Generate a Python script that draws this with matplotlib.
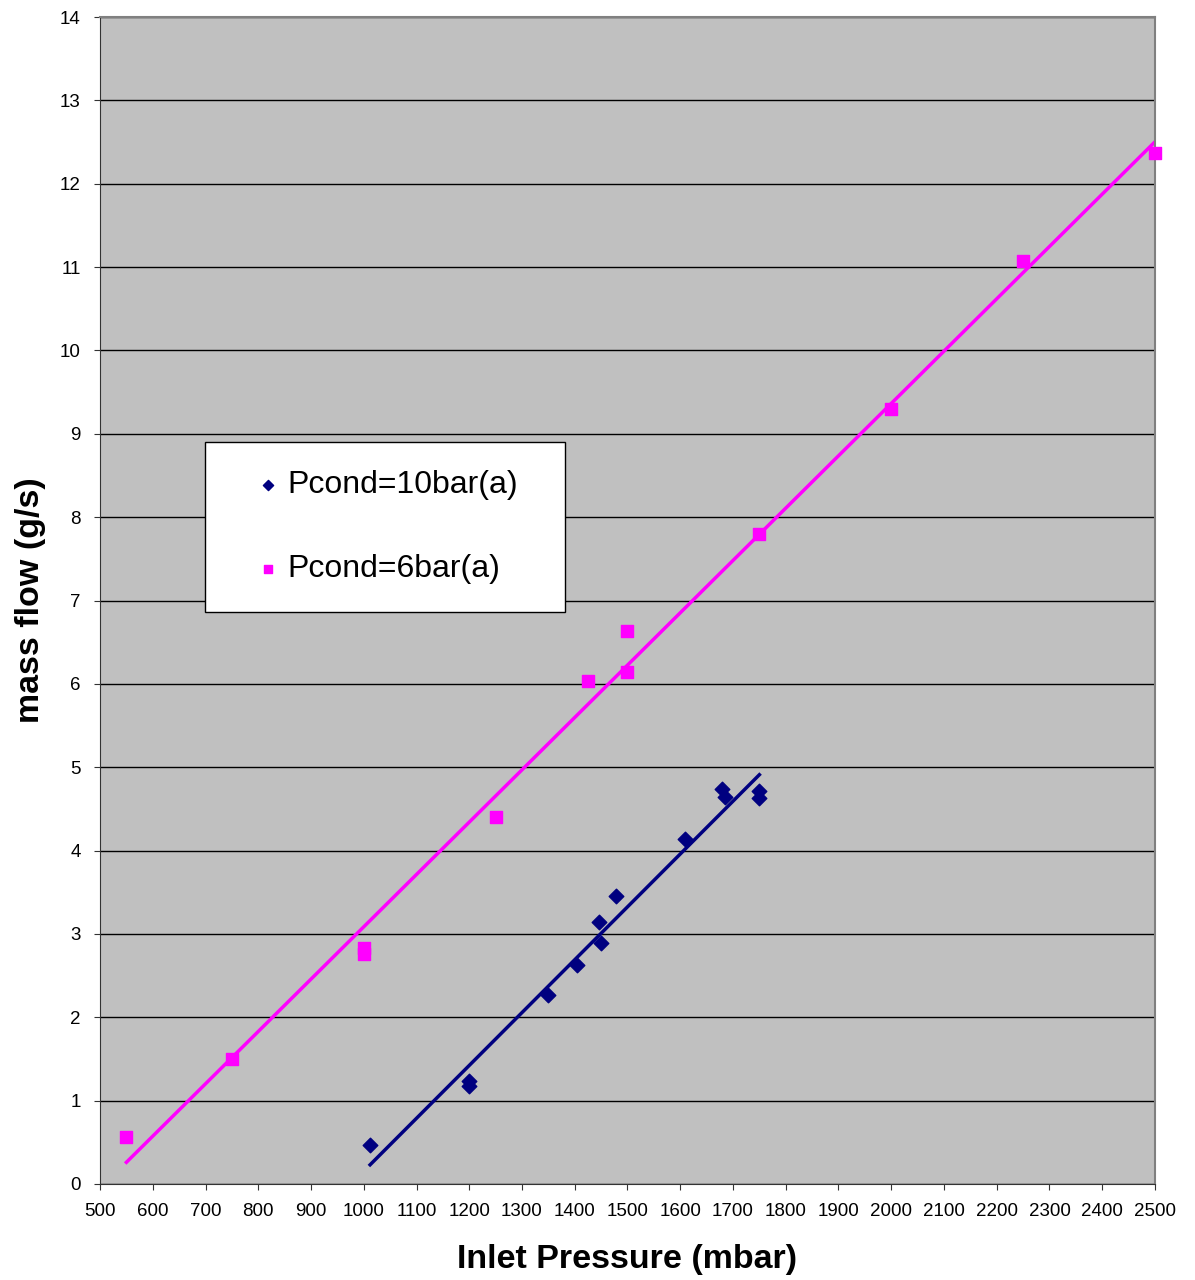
import numpy as np
import matplotlib.pyplot as plt

plt.rcParams['font.family'] = ['Liberation Sans', 'DejaVu Sans']

# Pcond = 10 bar(a)
p10_x = [1012, 1200, 1200, 1349, 1404, 1446, 1450, 1478, 1609, 1679, 1685, 1749, 1750]
p10_y = [0.47, 1.23, 1.18, 2.27, 2.63, 3.14, 2.89, 3.45, 4.14, 4.74, 4.64, 4.71, 4.63]

# Pcond = 6 bar(a)
p6_x = [550, 750, 1000, 1000, 1250, 1425, 1500, 1500, 1750, 2000, 2250, 2500]
p6_y = [0.56, 1.50, 2.83, 2.76, 4.40, 6.03, 6.64, 6.14, 7.80, 9.30, 11.07, 12.37]

navy = '#000080'
pink = '#FF00FF'

fig = plt.figure(figsize=(11.95, 12.8), dpi=100)
ax = fig.add_axes([0.0837, 0.075, 0.8828, 0.9117])
ax.set_facecolor('#C0C0C0')

ax.scatter(p10_x, p10_y, marker='D', s=55, color=navy, zorder=3, label='Pcond=10bar(a)')
ax.scatter(p6_x, p6_y, marker='s', s=85, color=pink, zorder=3, label='Pcond=6bar(a)', clip_on=False)

# linear trendlines
for xs, ys, c in [(p10_x, p10_y, navy), (p6_x, p6_y, pink)]:
    k, b = np.polyfit(xs, ys, 1)
    xx = np.array([min(xs), max(xs)])
    ax.plot(xx, k * xx + b, color=c, lw=2.5, zorder=2)

ax.set_xlim(500, 2500)
ax.set_ylim(0, 14)
ax.set_xticks(range(500, 2501, 100))
ax.set_yticks(range(0, 15))
ax.yaxis.grid(True, color='black', lw=1)
ax.set_axisbelow(True)
ax.tick_params(labelsize=13.5, direction='out', length=4, pad=10, color='#333333')

for s in ['top', 'right']:
    ax.spines[s].set_color('#808080')
    ax.spines[s].set_linewidth(1.5)
for s in ['left', 'bottom']:
    ax.spines[s].set_color('#333333')

ax.set_xlabel('Inlet Pressure (mbar)', fontsize=24.5, fontweight='bold', labelpad=17)
ax.set_ylabel('mass flow (g/s)', fontsize=24.5, fontweight='bold', labelpad=10)

leg = ax.legend(loc='lower left', bbox_to_anchor=(0.0995, 0.49, 0.341, 0.146), mode='expand',
                borderaxespad=0, fontsize=23, frameon=True, fancybox=False, edgecolor='black',
                framealpha=1, handletextpad=-0.5, handlelength=2.19, labelspacing=1.69,
                borderpad=0.875, markerscale=0.7, scatterpoints=1)
leg.get_frame().set_linewidth(1)

fig.savefig('out.png', dpi=100)
